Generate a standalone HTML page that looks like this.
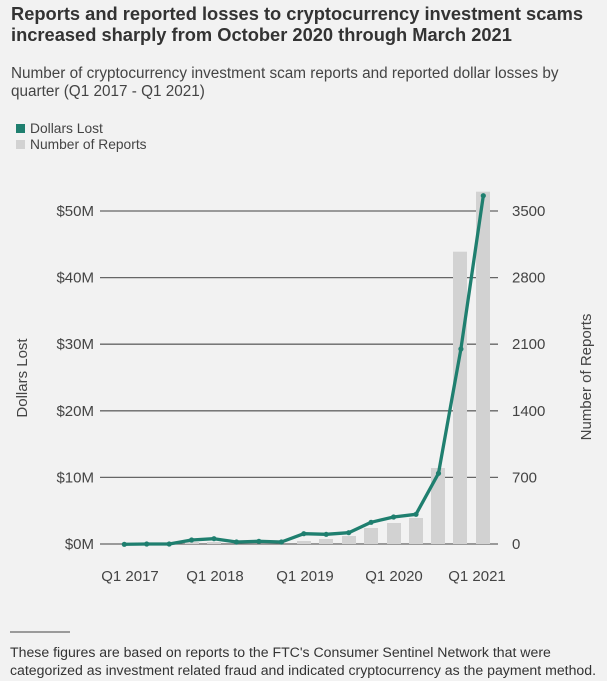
<!DOCTYPE html>
<html><head><style>
body{margin:0;background:#f2f2f2;}
svg{display:block;font-family:"Liberation Sans",Arial,sans-serif;}
</style></head><body>
<svg width="607" height="681" viewBox="0 0 607 681">
<rect width="607" height="681" fill="#f2f2f2"/>
<g font-weight="bold" font-size="18.3" fill="#333">
<text x="11" y="20">Reports and reported losses to cryptocurrency investment scams</text>
<text x="11" y="41">increased sharply from October 2020 through March 2021</text>
</g>
<g font-size="15.3" fill="#444">
<text x="11" y="78">Number of cryptocurrency investment scam reports and reported dollar losses by</text>
<text x="11" y="96">quarter (Q1 2017 - Q1 2021)</text>
</g>
<rect x="16" y="124" width="9" height="9" fill="#1f7f6f"/>
<text x="30" y="133" font-size="13.8" fill="#444">Dollars Lost</text>
<rect x="16" y="140" width="9" height="9" fill="#d2d2d2"/>
<text x="30" y="149" font-size="13.8" fill="#444">Number of Reports</text>
<g stroke="#666" stroke-width="1.3">
<line x1="100" y1="211" x2="498" y2="211"/>
<line x1="100" y1="277.6" x2="498" y2="277.6"/>
<line x1="100" y1="344.2" x2="498" y2="344.2"/>
<line x1="100" y1="410.8" x2="498" y2="410.8"/>
<line x1="100" y1="477.4" x2="498" y2="477.4"/>
<line x1="100" y1="544" x2="498" y2="544"/>
</g>
<g fill="#d2d2d2">
<rect x="185" y="542" width="14" height="2"/>
<rect x="207" y="542" width="14" height="2"/>
<rect x="297" y="541" width="14" height="3"/>
<rect x="319" y="539" width="14" height="5"/>
<rect x="342" y="536" width="14" height="8"/>
<rect x="364" y="528" width="14" height="16"/>
<rect x="387" y="523" width="14" height="21"/>
<rect x="409" y="518" width="14" height="26"/>
<rect x="431" y="468" width="14" height="76"/>
<rect x="453" y="251.7" width="14" height="292.3"/>
<rect x="476" y="191.7" width="14" height="352.3"/>
</g>
<polyline fill="none" stroke="#1f7f6f" stroke-width="3.3" stroke-linejoin="round"
points="124.3,544.3 146.7,544 169.2,544 191.6,540 214,538.7 236.5,542 258.9,541.3 281.4,542 303.8,533.7 326.2,534.3 348.7,532.7 371.1,522.3 393.6,517 416,514.3 438.5,473.3 460.9,349 483.3,195.7"/>
<g fill="#1f7f6f">
<circle cx="124.3" cy="544.3" r="2.6"/><circle cx="146.7" cy="544" r="2.6"/><circle cx="169.2" cy="544" r="2.6"/><circle cx="191.6" cy="540" r="2.6"/><circle cx="214" cy="538.7" r="2.6"/><circle cx="236.5" cy="542" r="2.6"/><circle cx="258.9" cy="541.3" r="2.6"/><circle cx="281.4" cy="542" r="2.6"/><circle cx="303.8" cy="533.7" r="2.6"/><circle cx="326.2" cy="534.3" r="2.6"/><circle cx="348.7" cy="532.7" r="2.6"/><circle cx="371.1" cy="522.3" r="2.6"/><circle cx="393.6" cy="517" r="2.6"/><circle cx="416" cy="514.3" r="2.6"/><circle cx="438.5" cy="473.3" r="2.6"/><circle cx="460.9" cy="349" r="2.6"/><circle cx="483.3" cy="195.7" r="2.6"/>
</g>
<g font-size="15" fill="#444" text-anchor="end">
<text x="94" y="216">$50M</text>
<text x="94" y="282.6">$40M</text>
<text x="94" y="349.2">$30M</text>
<text x="94" y="415.8">$20M</text>
<text x="94" y="482.4">$10M</text>
<text x="94" y="549">$0M</text>
</g>
<g font-size="15" fill="#444">
<text x="512" y="216">3500</text>
<text x="512" y="282.6">2800</text>
<text x="512" y="349.2">2100</text>
<text x="512" y="415.8">1400</text>
<text x="512" y="482.4">700</text>
<text x="512" y="549">0</text>
</g>
<g font-size="15" fill="#444" text-anchor="middle">
<text x="130" y="581">Q1 2017</text>
<text x="215" y="581">Q1 2018</text>
<text x="305" y="581">Q1 2019</text>
<text x="394" y="581">Q1 2020</text>
<text x="477" y="581">Q1 2021</text>
</g>
<text transform="translate(27,378) rotate(-90)" font-size="15" fill="#444" text-anchor="middle">Dollars Lost</text>
<text transform="translate(591,377) rotate(-90)" font-size="15" fill="#444" text-anchor="middle">Number of Reports</text>
<line x1="10" y1="632" x2="70" y2="632" stroke="#444" stroke-width="1"/>
<g font-size="14.1" fill="#333">
<text x="10" y="657">These figures are based on reports to the FTC's Consumer Sentinel Network that were</text>
<text x="10" y="675">categorized as investment related fraud and indicated cryptocurrency as the payment method.</text>
</g>
</svg>
</body></html>
